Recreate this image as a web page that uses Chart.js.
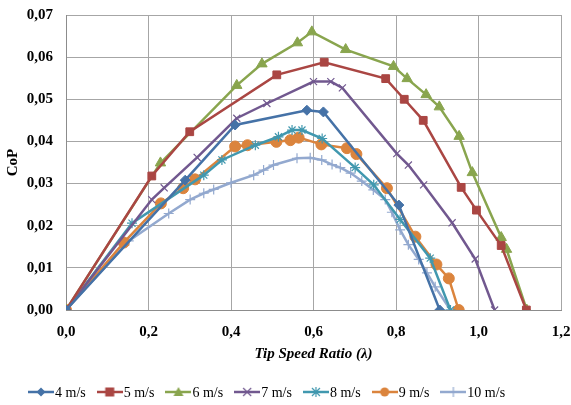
<!DOCTYPE html>
<html>
<head>
<meta charset="utf-8">
<script src="https://cdn.jsdelivr.net/npm/chart.js@4/dist/chart.umd.min.js"></script>
<style>
  html, body { margin: 0; padding: 0; background: #fff; }
  #wrap { width: 571px; height: 405px; }
</style>
</head>
<body>
<div id="wrap"><canvas id="copChart" width="571" height="405"></canvas></div>
<script>
// tip speed ratio (x) and CoP (y) per wind speed
const tsr4 = [0, 0.289, 0.410, 0.584, 0.624, 0.807, 0.906];
const cop4 = [0, 0.0308, 0.0439, 0.0474, 0.0470, 0.0249, 0];

const tsr5 = [0, 0.208, 0.300, 0.511, 0.626, 0.775, 0.820, 0.866, 0.958, 0.995, 1.055, 1.116];
const cop5 = [0, 0.0318, 0.0423, 0.0558, 0.0588, 0.0549, 0.0500, 0.0450, 0.0291, 0.0237, 0.0153, 0];

const tsr6 = [0, 0.229, 0.414, 0.475, 0.561, 0.596, 0.678, 0.794, 0.827, 0.873, 0.905, 0.953, 0.985, 1.055, 1.068, 1.117];
const cop6 = [0, 0.0349, 0.0533, 0.0584, 0.0634, 0.0660, 0.0618, 0.0578, 0.0549, 0.0511, 0.0482, 0.0412, 0.0326, 0.0172, 0.0144, 0];

const tsr7 = [0, 0.208, 0.238, 0.318, 0.414, 0.487, 0.600, 0.642, 0.670, 0.802, 0.830, 0.867, 0.936, 0.992, 1.039];
const cop7 = [0, 0.0262, 0.0290, 0.0362, 0.0455, 0.0490, 0.0542, 0.0542, 0.0527, 0.0371, 0.0344, 0.0297, 0.0207, 0.0121, 0];

const tsr8 = [0, 0.160, 0.334, 0.378, 0.459, 0.515, 0.548, 0.572, 0.621, 0.701, 0.746, 0.810, 0.883, 0.932];
const cop8 = [0, 0.0206, 0.0320, 0.0356, 0.0391, 0.0411, 0.0427, 0.0427, 0.0407, 0.0338, 0.0297, 0.0215, 0.0123, 0];

const tsr9 = [0, 0.140, 0.230, 0.284, 0.313, 0.410, 0.440, 0.510, 0.544, 0.564, 0.619, 0.681, 0.704, 0.778, 0.847, 0.898, 0.928, 0.952];
const cop9 = [0, 0.0160, 0.0253, 0.0289, 0.0310, 0.0388, 0.0391, 0.0399, 0.0403, 0.0409, 0.0393, 0.0384, 0.0370, 0.0289, 0.0174, 0.0108, 0.0075, 0];

const tsr10 = [0, 0.152, 0.249, 0.301, 0.334, 0.358, 0.400, 0.455, 0.479, 0.503, 0.560, 0.592, 0.620, 0.645, 0.665, 0.690, 0.717, 0.745, 0.774, 0.790, 0.810, 0.830, 0.855, 0.875, 0.895, 0.932];
const cop10 = [0, 0.0164, 0.0229, 0.0262, 0.0277, 0.0286, 0.0302, 0.0320, 0.0332, 0.0344, 0.0360, 0.0361, 0.0356, 0.0345, 0.0338, 0.0325, 0.0306, 0.0285, 0.0262, 0.0232, 0.0190, 0.0155, 0.0120, 0.0088, 0.0055, 0];

const seriesNames = ['4 m/s', '5 m/s', '6 m/s', '7 m/s', '8 m/s', '9 m/s', '10 m/s'];
const seriesColors = ['#4572A7', '#AA4643', '#89A54E', '#71588F', '#4198AF', '#DB843D', '#93A9CF'];
const seriesMarkers = ['rectRot', 'rect', 'triangle', 'crossRot', 'star', 'circle', 'cross'];
const seriesX = [tsr4, tsr5, tsr6, tsr7, tsr8, tsr9, tsr10];
const seriesY = [cop4, cop5, cop6, cop7, cop8, cop9, cop10];

const serif = "'Liberation Serif', 'Times New Roman', serif";

function markerRadius(style) {
  if (style === 'rect') return 5.5;
  if (style === 'triangle') return 6;
  if (style === 'circle') return 5.5;
  return 5;
}

// small line + marker image for the legend entries
function legendIcon(color, style) {
  const c = document.createElement('canvas');
  c.width = 26; c.height = 12;
  const g = c.getContext('2d');
  g.strokeStyle = color; g.fillStyle = color; g.lineWidth = 2.5;
  g.beginPath(); g.moveTo(0, 6); g.lineTo(26, 6); g.stroke();
  const cx = 13, cy = 6;
  g.lineWidth = 1.2;
  g.beginPath();
  if (style === 'rect') { g.fillRect(cx - 4.5, cy - 4.5, 9, 9); }
  else if (style === 'rectRot') { g.moveTo(cx, cy - 4.5); g.lineTo(cx + 4.5, cy); g.lineTo(cx, cy + 4.5); g.lineTo(cx - 4.5, cy); g.closePath(); g.fill(); }
  else if (style === 'triangle') { g.moveTo(cx, cy - 5); g.lineTo(cx + 5, cy + 4); g.lineTo(cx - 5, cy + 4); g.closePath(); g.fill(); }
  else if (style === 'circle') { g.arc(cx, cy, 4.5, 0, Math.PI * 2); g.fill(); }
  else if (style === 'crossRot') { g.moveTo(cx - 4, cy - 4); g.lineTo(cx + 4, cy + 4); g.moveTo(cx + 4, cy - 4); g.lineTo(cx - 4, cy + 4); g.stroke(); }
  else if (style === 'star') { g.moveTo(cx - 4, cy - 4); g.lineTo(cx + 4, cy + 4); g.moveTo(cx + 4, cy - 4); g.lineTo(cx - 4, cy + 4); g.moveTo(cx, cy - 5); g.lineTo(cx, cy + 5); g.stroke(); }
  else if (style === 'cross') { g.moveTo(cx, cy - 5); g.lineTo(cx, cy + 5); g.stroke(); }
  return c;
}

const datasets = seriesNames.map((name, i) => ({
  label: name,
  data: seriesX[i].map((x, j) => ({ x: x, y: seriesY[i][j] })),
  borderColor: seriesColors[i],
  backgroundColor: seriesColors[i],
  borderWidth: 2.5,
  pointStyle: seriesMarkers[i],
  pointRadius: markerRadius(seriesMarkers[i]),
  pointBorderWidth: (seriesMarkers[i] === 'crossRot' || seriesMarkers[i] === 'star' || seriesMarkers[i] === 'cross') ? 1.2 : 1,
  pointBorderColor: seriesColors[i],
  pointBackgroundColor: seriesColors[i],
  tension: 0,
  fill: false
}));

// legend drawn below the x title, one row
const bottomLegend = {
  id: 'bottomLegend',
  afterDraw(chart) {
    const c = chart.ctx;
    c.save();
    c.font = '14px ' + serif;
    c.fillStyle = '#000';
    c.textBaseline = 'middle';
    let x = 28;
    const y = 392;
    chart.data.datasets.forEach((ds, i) => {
      c.drawImage(legendIcon(seriesColors[i], seriesMarkers[i]), x, y - 6);
      c.fillText(ds.label, x + 27, y + 1);
      x += 27 + c.measureText(ds.label).width + 11;
    });
    c.restore();
  }
};

const ctx = document.getElementById('copChart').getContext('2d');

const copChart = new Chart(ctx, {
  type: 'line',
  data: { datasets: datasets },
  plugins: [bottomLegend],
  options: {
    responsive: false,
    animation: false,
    layout: { padding: { left: 0, right: 10, top: 15, bottom: 40 } },
    scales: {
      x: {
        type: 'linear',
        min: 0,
        max: 1.2,
        afterFit: s => { s.height = 55; s.paddingRight = 0; s.paddingLeft = 0; },
        ticks: {
          stepSize: 0.2,
          color: '#000',
          padding: 13,
          font: { family: serif, size: 15, weight: 'bold' },
          callback: v => v.toFixed(1).replace('.', ',')
        },
        grid: { color: '#a6a6a6', lineWidth: 1, drawTicks: false },
        border: { color: '#8c8c8c' },
        title: {
          display: true,
          text: 'Tip Speed Ratio (λ)',
          color: '#000',
          font: { family: serif, size: 15, weight: 'bold', style: 'italic' },
          padding: { top: 4, bottom: 2 }
        }
      },
      y: {
        min: 0,
        max: 0.07,
        afterFit: s => { s.width = 66; s.paddingTop = 0; s.paddingBottom = 0; },
        ticks: {
          stepSize: 0.01,
          color: '#000',
          padding: 13,
          font: { family: serif, size: 15, weight: 'bold' },
          callback: v => v.toFixed(2).replace('.', ',')
        },
        grid: { color: '#a6a6a6', lineWidth: 1, drawTicks: false },
        border: { color: '#8c8c8c' },
        title: {
          display: true,
          text: 'CoP',
          color: '#000',
          font: { family: serif, size: 15, weight: 'bold' },
          padding: { top: 4, bottom: 0 }
        }
      }
    },
    plugins: {
      legend: { display: false },
      tooltip: { enabled: false }
    }
  }
});
</script>
</body>
</html>
